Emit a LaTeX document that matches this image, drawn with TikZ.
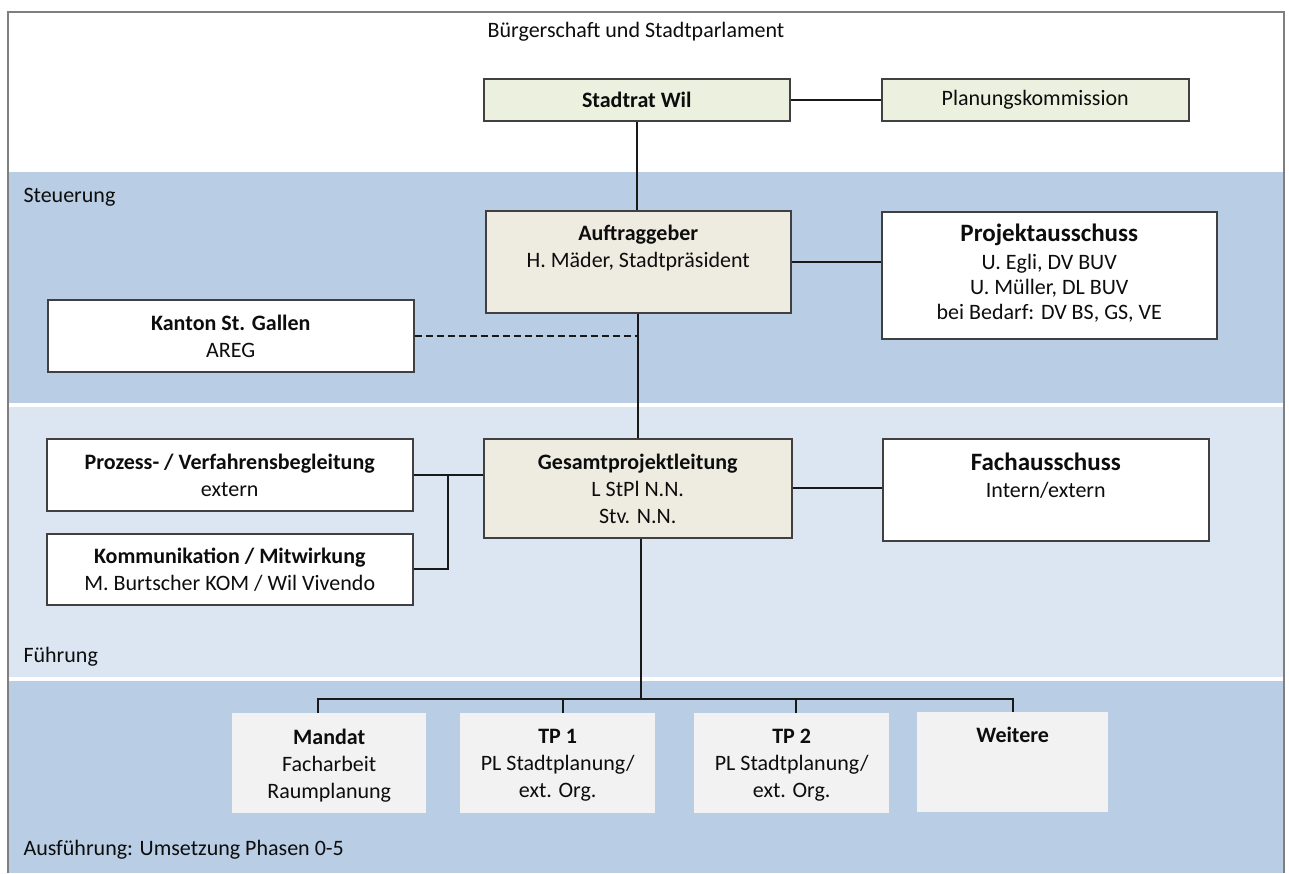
\documentclass[tikz,border=0pt]{standalone}
\usepackage{fontspec}
\setmainfont{Carlito}
\usetikzlibrary{positioning,calc}

\definecolor{dunkelblau}{HTML}{B9CDE5}
\definecolor{hellblau}{HTML}{DCE6F2}
\definecolor{beige}{HTML}{EEECE1}
\definecolor{hellgruen}{HTML}{EBF1DE}
\definecolor{hellgrau}{HTML}{F2F2F2}
\definecolor{rahmen}{HTML}{7F7F7F}

\begin{document}
\begin{tikzpicture}[x=1pt,y=-1pt,
    font=\fontsize{22}{27}\selectfont, text=black!95,
    box/.style = {shape=rectangle, anchor=north west,
      draw=black!75, line width=1.5pt, inner sep=0pt},
    weiss/.style = {box, fill=white},
    tan/.style = {box, fill=beige},
    olive/.style = {box, fill=hellgruen},
    mini/.style = {shape=rectangle, anchor=north west,
      fill=hellgrau, inner sep=0pt},
    txt/.style = {align=center, inner sep=0pt},
    conn/.style = {line width=2.2pt, draw=black!90}]
  \useasboundingbox (0,0) rectangle (1289,873);

  % Ebenen
  \fill[dunkelblau] (8,172) rectangle (1284,403);
  \fill[hellblau] (8,407) rectangle (1284,677);
  \fill[dunkelblau] (8,681) rectangle (1284,873);
  \draw[rahmen, line width=1.5pt] (8,873) -- (8,12) -- (1284,12) -- (1284,873);

  \node (buergerschaft) at (636,32) {Bürgerschaft und Stadtparlament};
  \node[anchor=west] (steuerung) at (20,197) {Steuerung};
  \node[anchor=west] (fuehrung) at (20,657) {Führung};
  \node[anchor=west] (ausfuehrung) at (20,850) {Ausführung: Umsetzung Phasen 0-5};

  % Steuerung
  \node[olive, minimum width=306, minimum height=42] (stadtrat) at (483,78) {\textbf{Stadtrat Wil}};
  \node[olive, minimum width=307, minimum height=42] (plankom) at (881,78) {Planungskommission};

  \node[tan, minimum width=305, minimum height=102] (auftrag) at (485,210) {};
  \node[txt, below=15pt of auftrag.north] (auftrag-t)
    {\textbf{Auftraggeber}\\H. Mäder, Stadtpräsident};

  \node[weiss, minimum width=335, minimum height=127] (projekt) at (881,211) {};
  \node[txt, below=13pt of projekt.north, font=\fontsize{22}{25}\selectfont] (projekt-t)
    {{\fontsize{25}{30}\selectfont\bfseries Projektausschuss}\\[3pt]
     U. Egli, DV BUV\\U. Müller, DL BUV\\bei Bedarf: DV BS, GS, VE};

  \node[weiss, minimum width=366, minimum height=72] (kanton) at (47,299) {};
  \node[txt, below=16pt of kanton.north] (kanton-t) {\textbf{Kanton St. Gallen}\\AREG};

  % Fuehrung
  \node[weiss, minimum width=366, minimum height=72] (prozess) at (46,438) {};
  \node[txt, below=16pt of prozess.north] (prozess-t)
    {\textbf{Prozess- / Verfahrensbegleitung}\\extern};
  \node[weiss, minimum width=366, minimum height=71] (komm) at (46,533) {};
  \node[txt, below=15pt of komm.north] (komm-t)
    {\textbf{Kommunikation / Mitwirkung}\\M. Burtscher KOM / Wil Vivendo};

  \node[tan, minimum width=308, minimum height=99] (gesamt) at (483,438) {};
  \node[txt, below=16pt of gesamt.north] (gesamt-t)
    {\textbf{Gesamtprojektleitung}\\L StPl N.N.\\Stv. N.N.};
  \node[weiss, minimum width=326, minimum height=102] (fach) at (882,438) {};
  \node[txt, below=15pt of fach.north] (fach-t)
    {{\fontsize{25}{30}\selectfont\bfseries Fachausschuss}\\Intern/extern};

  % Ausfuehrung
  \node[mini, minimum width=194, minimum height=100] (mandat) at (232,713) {};
  \node[txt, below=16pt of mandat.north] (mandat-t) {\textbf{Mandat}\\Facharbeit\\Raumplanung};
  \node[mini, minimum width=195, minimum height=100] (tp1) at (460,713) {};
  \node[txt, below=16pt of tp1.north] (tp1-t) {\textbf{TP 1}\\PL Stadtplanung/\\ext. Org.};
  \node[mini, minimum width=195, minimum height=100] (tp2) at (694,713) {};
  \node[txt, below=16pt of tp2.north] (tp2-t) {\textbf{TP 2}\\PL Stadtplanung/\\ext. Org.};
  \node[mini, minimum width=191, minimum height=100] (weitere) at (917,712) {};
  \node[txt, below=15pt of weitere.north] (weitere-t) {\textbf{Weitere}};

  % Verbindungen
  \draw[conn] (stadtrat.east) -- (plankom.west);
  \draw[conn] (stadtrat.south) -- (stadtrat.south |- auftrag.north);
  \draw[conn] (auftrag.east) -- (auftrag.east -| projekt.west);
  \draw[conn] (auftrag.south) -- (auftrag.south |- gesamt.north);
  \draw[conn, dash pattern=on 7pt off 4pt] (kanton.east) -- (kanton.east -| auftrag.south);

  \coordinate (knoten) at ($(prozess.east)!0.5!(prozess.east -| gesamt.west)$);
  \draw[conn] (prozess.east) -- (prozess.east -| gesamt.west);
  \draw[conn] (knoten) |- (komm.east);
  \draw[conn] (gesamt.east) -- (gesamt.east -| fach.west);

  \coordinate (bus) at (640,699);
  \draw[conn] ([xshift=3pt]gesamt.south) -- ([xshift=3pt]gesamt.south |- bus);
  \draw[conn] ([xshift=-11pt]mandat.north) |- (weitere.north |- bus) -- (weitere.north);
  \draw[conn] ([xshift=5pt]tp1.north) -- ([xshift=5pt]tp1.north |- bus);
  \draw[conn] ([xshift=4pt]tp2.north) -- ([xshift=4pt]tp2.north |- bus);
\end{tikzpicture}
\end{document}
